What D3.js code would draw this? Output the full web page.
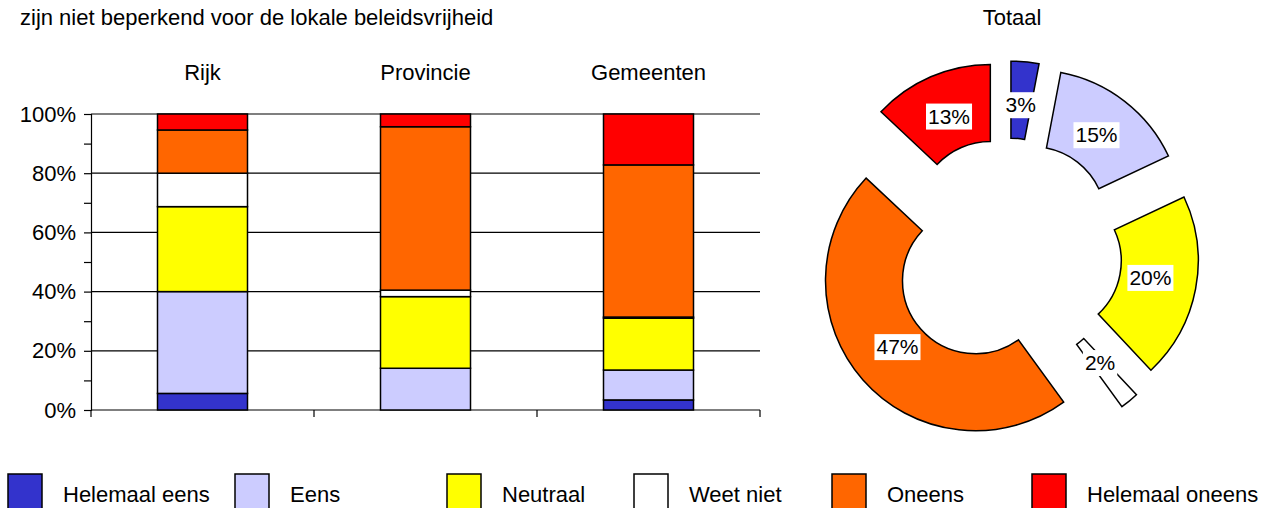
<!DOCTYPE html>
<html>
<head>
<meta charset="utf-8">
<script src="https://cdn.jsdelivr.net/npm/d3@7"></script>
<style>
  body { margin: 0; background: #fff; }
  svg { display: block; font-family: "Liberation Sans", Arial, sans-serif; }
</style>
</head>
<body>
<div id="chart"></div>
<script>
// Answer categories (legend order, stacked bottom to top)
const answers = ['Helemaal eens', 'Eens', 'Neutraal', 'Weet niet', 'Oneens', 'Helemaal oneens'];
const colors = ['#3333cc', '#ccccff', '#ffff00', '#ffffff', '#ff6600', '#ff0000'];

// Bar chart groups and percentages per answer
const groups = ['Rijk', 'Provincie', 'Gemeenten'];
const rijk = [5.6, 34.4, 28.7, 11.3, 14.6, 5.4];
const provincie = [0, 14.1, 24.2, 2.2, 55.2, 4.3];
const gemeenten = [3.4, 10.1, 17.5, 0.4, 51.4, 17.2];

// Donut: total
const totaal = [3, 15, 20, 2, 47, 13];
const yTicks = [0, 20, 40, 60, 80, 100];

const width = 1277, height = 508;
const fontSize = '22px';
const svg = d3.select('#chart').append('svg')
  .attr('width', width)
  .attr('height', height);

// Titles
svg.append('text')
  .attr('x', 20).attr('y', 25)
  .style('font-size', fontSize)
  .text('zijn niet beperkend voor de lokale beleidsvrijheid');

svg.append('text')
  .attr('x', 1012).attr('y', 25)
  .attr('text-anchor', 'middle')
  .style('font-size', fontSize)
  .text('Totaal');

// ---- Stacked bar chart ----
const plot = { left: 91, right: 760, top: 114, bottom: 410 };

const x = d3.scaleBand()
  .domain(groups)
  .range([plot.left, plot.right]);

const y = d3.scaleLinear()
  .domain([0, 100])
  .range([plot.bottom, plot.top]);

const barWidth = 90;

// gridlines
svg.append('g')
  .selectAll('line')
  .data(yTicks.filter(d => d > 0))
  .enter().append('line')
  .attr('x1', plot.left).attr('x2', plot.right)
  .attr('y1', d => y(d)).attr('y2', d => y(d))
  .attr('stroke', '#000')
  .attr('stroke-width', 1.2);

// y axis
const yAxis = d3.axisLeft(y)
  .tickValues(d3.range(0, 101, 10))
  .tickSize(7)
  .tickFormat(d => d % 20 === 0 ? d + '%' : '');

const yg = svg.append('g')
  .attr('transform', `translate(${plot.left},0)`)
  .call(yAxis);
yg.select('.domain').attr('stroke', '#000').attr('stroke-width', 1.2);
yg.selectAll('.tick line').attr('stroke', '#000').attr('stroke-width', 1.2);
yg.selectAll('.tick text')
  .attr('x', -15)
  .style('font-size', fontSize)
  .style('font-family', '"Liberation Sans", Arial, sans-serif')
  .attr('fill', '#000');

// x axis (bottom, ticks between categories)
const xg = svg.append('g');
xg.append('line')
  .attr('x1', plot.left).attr('x2', plot.right)
  .attr('y1', plot.bottom).attr('y2', plot.bottom)
  .attr('stroke', '#000').attr('stroke-width', 1.2);
const boundaries = groups.map(g => x(g)).concat([x(groups[groups.length - 1]) + x.bandwidth()]);
xg.selectAll('.xtick')
  .data(boundaries)
  .enter().append('line')
  .attr('class', 'xtick')
  .attr('x1', d => d).attr('x2', d => d)
  .attr('y1', plot.bottom).attr('y2', plot.bottom + 7)
  .attr('stroke', '#000').attr('stroke-width', 1.2);

// category labels on top
svg.append('g')
  .selectAll('text')
  .data(groups)
  .enter().append('text')
  .attr('x', d => x(d) + x.bandwidth() / 2)
  .attr('y', 80)
  .attr('text-anchor', 'middle')
  .style('font-size', fontSize)
  .text(d => d);

// stack data
const table = groups.map((g, i) => {
  const vals = [rijk, provincie, gemeenten][i];
  const row = { group: g };
  answers.forEach((a, j) => { row[a] = vals[j]; });
  return row;
});
const series = d3.stack().keys(answers)(table);

svg.append('g')
  .selectAll('g')
  .data(series)
  .enter().append('g')
  .attr('fill', (d, i) => colors[i])
  .selectAll('rect')
  .data(d => d)
  .enter().append('rect')
  .attr('x', d => x(d.data.group) + x.bandwidth() / 2 - barWidth / 2)
  .attr('width', barWidth)
  .attr('y', d => y(d[1]))
  .attr('height', d => y(d[0]) - y(d[1]))
  .attr('stroke', '#000')
  .attr('stroke-width', 1.5)
  .style('display', d => d[1] - d[0] > 0 ? null : 'none');

// ---- Exploded donut ----
const cx = 1007, cy = 253;
const outerR = 150, innerR = 73, explode = 42;

const pie = d3.pie().sort(null).value(d => d);
const arcs = pie(totaal);
const arc = d3.arc().innerRadius(innerR).outerRadius(outerR);
const labelArc = d3.arc().innerRadius(104).outerRadius(104);

const donut = svg.append('g').attr('transform', `translate(${cx},${cy})`);

const slice = donut.selectAll('.slice')
  .data(arcs)
  .enter().append('g')
  .attr('class', 'slice')
  .attr('transform', d => {
    const a = (d.startAngle + d.endAngle) / 2;
    return `translate(${Math.sin(a) * explode},${-Math.cos(a) * explode})`;
  });

slice.append('path')
  .attr('d', arc)
  .attr('fill', (d, i) => colors[i])
  .attr('stroke', '#000')
  .attr('stroke-width', 1.5);

// labels with white boxes
const labels = slice.append('g')
  .attr('transform', d => {
    const [lx, ly] = labelArc.centroid(d);
    return `translate(${lx},${ly - 3})`;
  });

labels.append('text')
  .attr('text-anchor', 'middle')
  .attr('dy', '0.36em')
  .style('font-size', '21px')
  .text(d => d.data + '%')
  .each(function () {
    const b = this.getBBox();
    d3.select(this.parentNode).insert('rect', 'text')
      .attr('x', b.x - 2).attr('y', b.y - 1)
      .attr('width', b.width + 4).attr('height', b.height + 3)
      .attr('fill', '#fff');
  });

// ---- Legend ----
const legendX = [8, 235, 447, 634, 832, 1032];
const legend = svg.append('g')
  .selectAll('g')
  .data(answers)
  .enter().append('g')
  .attr('transform', (d, i) => `translate(${legendX[i]},474)`);

legend.append('rect')
  .attr('width', 34).attr('height', 40)
  .attr('fill', (d, i) => colors[i])
  .attr('stroke', '#000')
  .attr('stroke-width', 1.5);

legend.append('text')
  .attr('x', 55).attr('y', 28)
  .style('font-size', fontSize)
  .text(d => d);
</script>
</body>
</html>
